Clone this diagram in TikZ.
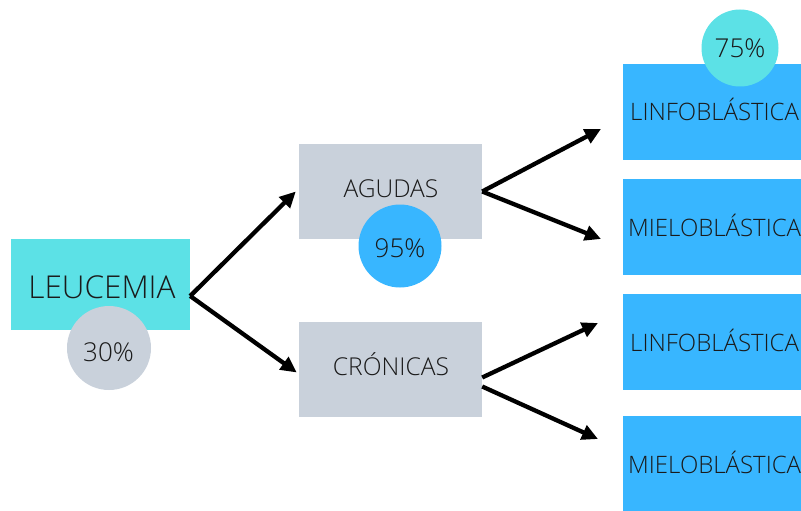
\documentclass[tikz,border=0pt]{standalone}
\usepackage{fontspec}
\setmainfont{Open Sans Light}
\usetikzlibrary{arrows.meta,calc}
\definecolor{cyanbox}{HTML}{5CE1E6}
\definecolor{graybox}{HTML}{C9D1DB}
\definecolor{bluebox}{HTML}{38B6FF}
\definecolor{txt}{HTML}{1A1A1A}
\begin{document}
\begin{tikzpicture}[x=1pt,y=-1pt,
  box/.style={rectangle, inner sep=0pt},
  lbl/.style={inner sep=0pt, text=txt, anchor=base, font=\fontsize{24.6}{28}\selectfont},
  rlbl/.style={lbl, anchor=base west, font=\fontsize{24}{28}\selectfont},
  pct/.style={inner sep=0pt, text=txt, anchor=base, font=\fontsize{26}{30}\selectfont},
  circ/.style={circle, inner sep=0pt},
  arr/.style={line width=4.3pt, -{Triangle[length=16pt,width=15pt]}, black}]
\useasboundingbox (0,0) rectangle (801,511);
% main boxes
\node[box, fill=cyanbox, minimum width=179pt, minimum height=91pt] (leu) at (100.5,284.5) {};
\node[lbl, font=\fontsize{31.5}{36}\selectfont] (leut) at (102,298) {LEUCEMIA};
\node[box, fill=graybox, minimum width=183pt, minimum height=95pt] (ag) at (390.5,191.5) {};
\node[lbl] (agt) at (391,197) {AGUDAS};
\node[box, fill=graybox, minimum width=183pt, minimum height=95pt] (cr) at (390.5,369.5) {};
\node[lbl] (crt) at (391,375) {CRÓNICAS};
% right boxes
\node[box, fill=bluebox, minimum width=190pt, minimum height=96pt, anchor=west] (r1) at (623,112) {};
\node[rlbl] (r1t) at (630,121) {LINFOBLÁSTICA};
\node[box, fill=bluebox, minimum width=190pt, minimum height=96pt, anchor=west] (r2) at (623,227) {};
\node[rlbl] (r2t) at (628,236) {MIELOBLÁSTICA};
\node[box, fill=bluebox, minimum width=190pt, minimum height=96pt, anchor=west] (r3) at (623,342) {};
\node[rlbl] (r3t) at (630,351) {LINFOBLÁSTICA};
\node[box, fill=bluebox, minimum width=190pt, minimum height=96pt, anchor=west] (r4) at (623,464) {};
\node[rlbl] (r4t) at (628,473) {MIELOBLÁSTICA};
% circles
\node[circ, fill=graybox, minimum size=84pt] (c30) at (109,348) {};
\node[pct] (c30t) at (108.5,361) {30\%};
\node[circ, fill=bluebox, minimum size=83pt] (c95) at (400,246) {};
\node[pct] (c95t) at (400,257) {95\%};
\node[circ, fill=cyanbox, minimum size=77pt] (c75) at (740,48) {};
\node[pct] (c75t) at (740,58) {75\%};
% arrow targets
\coordinate (t1) at (601,129);
\coordinate (t2) at (601,239);
\coordinate (t3) at (598,323);
\coordinate (t4) at (598,439);
% arrows
\draw[arr] ([yshift=-11.5pt]leu.east) -- ([xshift=-3pt]ag.west);
\draw[arr] ([yshift=-11.5pt]leu.east) -- ([xshift=-2pt,yshift=-3pt]cr.west);
\draw[arr] (ag.east) -- (t1);
\draw[arr] (ag.east) -- (t2);
\draw[arr] ([yshift=-8pt]cr.east) -- (t3);
\draw[arr] ([yshift=-17pt]cr.east) -- (t4);
\end{tikzpicture}
\end{document}
